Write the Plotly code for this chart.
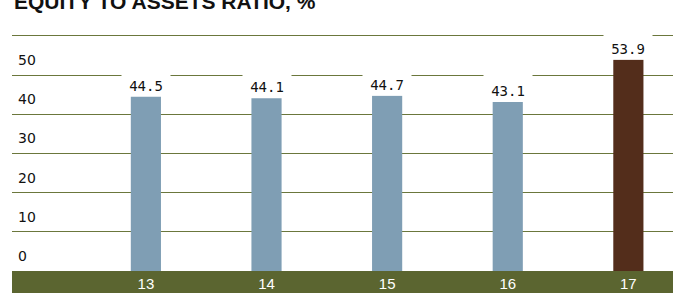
import plotly.graph_objects as go

categories = ["13", "14", "15", "16", "17"]
values = [44.5, 44.1, 44.7, 43.1, 53.9]
value_labels = ["44.5", "44.1", "44.7", "43.1", "53.9"]
bar_colors = ["#7f9eb4", "#7f9eb4", "#7f9eb4", "#7f9eb4", "#532d1b"]
y_tickvals = [0, 10, 20, 30, 40, 50, 60]
y_ticktext = ["0", "10", "20", "30", "40", "50", ""]
title_text = "EQUITY TO ASSETS RATIO, %"

GRID = "#6b773c"
BAND = "#5b6530"

fig = go.Figure()
fig.add_trace(go.Bar(
    x=categories, y=values, width=0.25,
    marker=dict(color=bar_colors, line=dict(width=0)),
    hoverinfo="skip",
))

for i, (v, t) in enumerate(zip(values, value_labels)):
    fig.add_annotation(
        x=i, y=v, xref="x", yref="y", text=t, showarrow=False,
        xanchor="center", yanchor="bottom", yshift=0,
        width=44, height=24, valign="bottom", borderpad=2,
        bgcolor="white",
        font=dict(family="DejaVu Sans Mono", size=14, color="#111111"),
    )

fig.add_annotation(
    x=0, y=1, xref="paper", yref="paper", text=title_text, showarrow=False,
    xanchor="left", yanchor="bottom", yshift=13,
    font=dict(family="Liberation Sans", size=21, color="#111111", weight="bold"),
)

fig.add_shape(
    type="rect", xref="paper", yref="paper", x0=0, x1=1, y0=-0.2, y1=0,
    fillcolor=BAND, line=dict(width=0), layer="below",
)

fig.update_layout(
    width=673, height=293,
    margin=dict(l=12, r=0, t=28, b=22),
    paper_bgcolor="white", plot_bgcolor="white",
    showlegend=False,
    xaxis=dict(
        type="category", range=[-1.11, 4.37],
        showgrid=False, zeroline=False, showline=False, ticks="",
        tickfont=dict(family="Liberation Sans", size=15, color="white"),
        ticklabelstandoff=2,
    ),
    yaxis=dict(
        range=[0, 62], tickvals=y_tickvals, ticktext=y_ticktext,
        showgrid=True, gridcolor=GRID, gridwidth=1.4,
        zeroline=False, showline=False, ticks="",
        ticklabelposition="inside", ticklabelstandoff=3, ticklabelshift=-15,
        tickfont=dict(family="DejaVu Sans", size=14, color="#111111"),
    ),
)

fig.write_html(
    "out.html",
    config={"displayModeBar": False},
    post_script="document.body.style.margin='0';document.body.style.overflow='hidden';",
)
